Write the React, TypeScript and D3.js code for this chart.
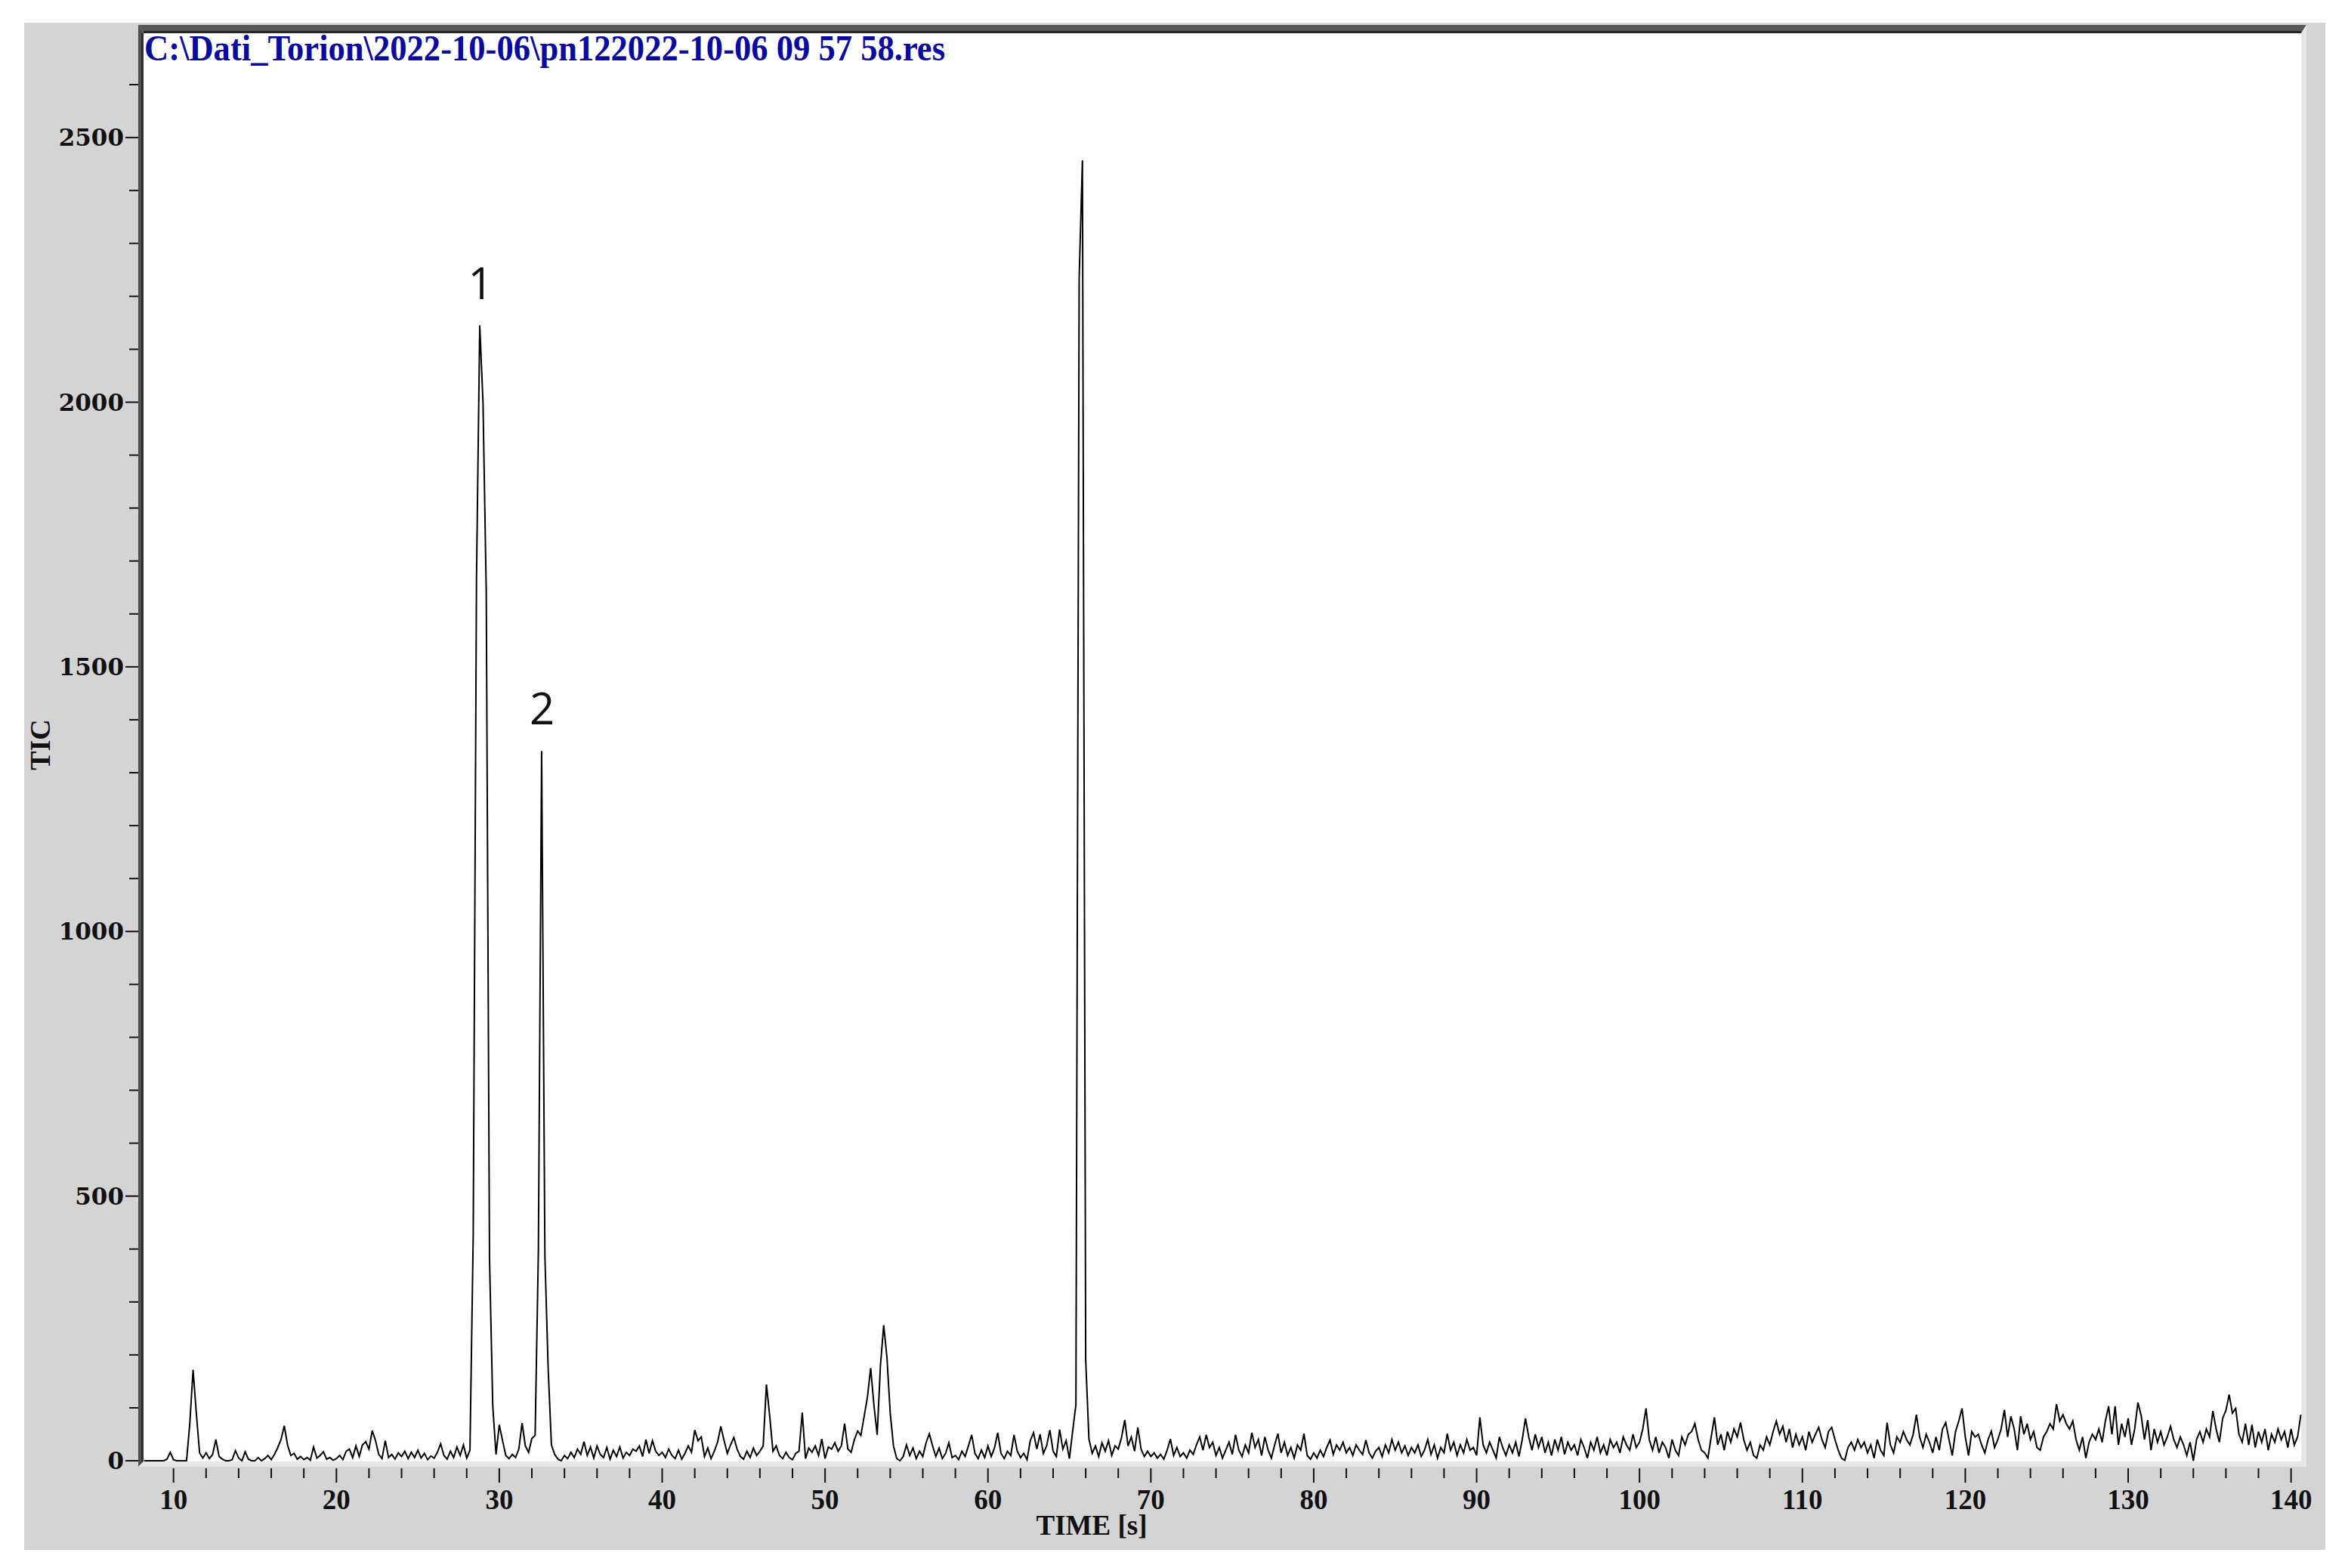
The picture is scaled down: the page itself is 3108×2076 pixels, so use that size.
import * as d3 from "d3";

// TIC trace, one reading every 0.2 s starting at 8.2 s
const startTime = 8.2;
const stepTime = 0.2;

const tic08 = [0, 0, 0, 0, 0, 0, 0, 3, 16];
const tic10 = [
  2, 0, 0, 0, 0, 70, 172, 90, 15, 5,
  15, 4, 12, 40, 8, 3, 0, 0, 2, 19,
  5, 0, 17, 3, 0, 0, 6, 0, 4, 10,
  2, 12, 25, 40, 66, 30, 10, 14, 3, 8,
  2, 6, 1, 26, 5, 10, 17, 3, 6, 1,
];
const tic20 = [
  4, 10, 2, 18, 22, 6, 28, 8, 30, 36,
  22, 57, 38, 12, 4, 38, 6, 12, 3, 15,
  8, 18, 4, 16, 6, 20, 5, 14, 2, 9,
  5, 16, 32, 10, 3, 18, 6, 26, 10, 30,
  5, 20, 427, 1664, 2145, 2000, 1641, 382, 103, 12,
];
const tic30 = [
  68, 38, 10, 4, 12, 6, 22, 71, 28, 16,
  42, 48, 396, 1341, 387, 175, 30, 12, 3, 0,
  10, 4, 16, 6, 22, 12, 36, 10, 26, 5,
  28, 12, 6, 25, 3, 20, 8, 26, 5, 16,
  10, 22, 18, 28, 8, 40, 14, 38, 18, 10,
];
const tic40 = [
  16, 6, 22, 10, 4, 20, 3, 14, 28, 16,
  58, 38, 45, 8, 24, 4, 18, 35, 65, 38,
  14, 30, 44, 22, 8, 3, 18, 6, 24, 10,
  18, 28, 144, 85, 18, 28, 10, 4, 16, 6,
  2, 14, 18, 91, 4, 24, 16, 28, 10, 41,
];
const tic50 = [
  4, 26, 22, 34, 18, 28, 70, 22, 16, 40,
  56, 48, 84, 120, 175, 105, 49, 180, 256, 195,
  90, 28, 4, 0, 8, 30, 10, 24, 4, 18,
  8, 34, 51, 28, 8, 24, 4, 14, 34, 6,
  10, 2, 18, 8, 28, 49, 14, 4, 20, 6,
];
const tic60 = [
  28, 8, 24, 53, 14, 4, 18, 10, 49, 18,
  6, 14, 2, 38, 53, 22, 50, 14, 28, 58,
  18, 8, 59, 22, 38, 4, 56, 106, 2235, 2457,
  191, 41, 14, 28, 8, 34, 18, 38, 10, 28,
  22, 44, 77, 28, 45, 18, 63, 22, 8, 18,
];
const tic70 = [
  8, 15, 5, 12, 3, 20, 41, 10, 25, 8,
  15, 5, 20, 12, 30, 45, 20, 49, 25, 35,
  10, 25, 5, 20, 35, 12, 49, 20, 8, 30,
  15, 53, 25, 40, 10, 45, 20, 5, 30, 51,
  15, 35, 10, 25, 5, 30, 20, 51, 10, 3,
];
const tic80 = [
  15, 5, 20, 8, 25, 39, 12, 30, 20, 35,
  15, 25, 10, 30, 20, 12, 39, 15, 5, 18,
  25, 8, 30, 15, 40, 20, 35, 15, 28, 10,
  25, 15, 30, 8, 20, 40, 12, 30, 5, 25,
  15, 51, 20, 35, 10, 30, 15, 40, 20, 25,
];
const tic90 = [
  10, 82, 30, 15, 35, 20, 5, 45, 25, 10,
  30, 15, 35, 8, 40, 80, 45, 20, 50, 25,
  45, 15, 35, 10, 40, 20, 45, 12, 35, 20,
  30, 10, 40, 25, 5, 35, 20, 45, 15, 30,
  10, 40, 25, 35, 15, 45, 30, 20, 50, 25,
];
const tic100 = [
  35, 60, 99, 40, 20, 45, 15, 35, 25, 5,
  40, 20, 10, 45, 30, 50, 55, 70, 40, 20,
  15, 5, 45, 82, 30, 50, 20, 55, 35, 60,
  45, 72, 40, 20, 35, 10, 5, 30, 20, 45,
  30, 55, 75, 50, 65, 35, 60, 25, 50, 30,
];
const tic110 = [
  45, 20, 55, 35, 50, 63, 40, 25, 55, 63,
  40, 20, 5, 1, 25, 35, 20, 40, 25, 35,
  15, 30, 5, 40, 20, 10, 72, 30, 15, 45,
  35, 55, 40, 30, 50, 87, 45, 25, 50, 35,
  15, 45, 20, 60, 72, 40, 10, 55, 75, 99,
];
const tic120 = [
  45, 10, 55, 45, 50, 30, 15, 40, 56, 25,
  40, 60, 96, 45, 84, 60, 20, 84, 50, 70,
  40, 55, 25, 20, 45, 55, 70, 60, 107, 75,
  87, 70, 60, 75, 40, 20, 45, 5, 35, 50,
  40, 60, 35, 75, 103, 50, 103, 30, 70, 45,
];
const tic130 = [
  80, 30, 60, 110, 85, 40, 77, 20, 60, 35,
  55, 30, 45, 65, 40, 25, 45, 30, 10, 35,
  0, 40, 55, 35, 60, 45, 94, 60, 35, 80,
  95, 125, 90, 99, 50, 35, 70, 30, 68, 25,
  55, 35, 60, 20, 50, 35, 60, 40, 55, 25,
];
const tic140 = [60, 30, 45, 87];

const ticValues = [
  ...tic08, ...tic10, ...tic20, ...tic30, ...tic40, ...tic50, ...tic60,
  ...tic70, ...tic80, ...tic90, ...tic100, ...tic110, ...tic120, ...tic130, ...tic140,
];

const xMajorTicks = [10, 20, 30, 40, 50, 60, 70, 80, 90, 100, 110, 120, 130, 140];
const yMajorTicks = [0, 500, 1000, 1500, 2000, 2500];
const xMinorTicks = d3.range(10, 141, 2);
const yMinorTicks = d3.range(0, 2601, 100);

const peakLabels = [
  { label: "1", time: 28.85, value: 2145 },
  { label: "2", time: 32.63, value: 1341 },
];

const title = "C:\\Dati_Torion\\2022-10-06\\pn122022-10-06 09 57 58.res";

const W = 3108;
const H = 2076;
const plot = { left: 190, top: 44, right: 3046, bottom: 1935 };

const x = d3.scaleLinear().domain([8.16, 140.62]).range([plot.left, plot.right]);
const y = d3.scaleLinear().domain([0, 2700]).range([1934, 42]);

const App = () => {
  const points = ticValues.map((v, i) => [+(startTime + i * stepTime).toFixed(1), v] as [number, number]);
  const line = d3.line<[number, number]>()
    .x(d => x(d[0]))
    .y(d => y(d[1]));

  const serif = "'Liberation Serif', 'Times New Roman', serif";

  return (
    <svg width={W} height={H} style={{ position: "absolute", left: 0, top: 0, background: "#fff" }}>
      {/* grey panel */}
      <rect x={32} y={30} width={3046} height={2022} fill="#d4d4d4" />
      <rect x={plot.left} y={plot.top} width={plot.right - plot.left} height={plot.bottom - plot.top} fill="#fff" />

      {/* sunken frame */}
      <polygon points="183,33 3053,33 3046,44 190,44" fill="#585858" />
      <rect x={190} y={41} width={2856} height={3} fill="#262626" />
      <polygon points="183,33 190,44 190,1935 183,1942" fill="#4f4f4f" />
      <rect x={187} y={44} width={3} height={1891} fill="#2e2e2e" />
      <polygon points="3046,44 3053,33 3053,1942 3046,1935" fill="#e8e8e8" />
      <polygon points="190,1935 3046,1935 3053,1942 183,1942" fill="#e6e6e6" />

      {/* title */}
      <text x={191} y={80} fill="#0a0a9e" fontFamily={serif} fontWeight="bold" fontSize={48}
        textLength={1060} lengthAdjust="spacingAndGlyphs">{title}</text>

      {/* trace */}
      <path d={line(points) ?? ""} fill="none" stroke="#000" strokeWidth={2} strokeLinejoin="miter" />

      {/* peak numbers */}
      {peakLabels.map(p => (
        <text key={p.label} x={x(p.time)} y={y(p.value) - 35} textAnchor="middle"
          fontFamily="'Open Sans', 'Noto Sans', sans-serif" fontSize={58} fill="#111">{p.label}</text>
      ))}

      {/* x axis */}
      {xMinorTicks.map(t => (
        <line key={"xm" + t} x1={x(t)} x2={x(t)} y1={1944} y2={xMajorTicks.includes(t) ? 1963 : 1957}
          stroke="#111" strokeWidth={2} />
      ))}
      {xMajorTicks.map(t => (
        <text key={"xl" + t} x={x(t)} y={1998} textAnchor="middle" fontFamily={serif}
          fontWeight="bold" fontSize={37} fill="#111">{t}</text>
      ))}
      <text x={1445} y={2032} textAnchor="middle" fontFamily={serif} fontWeight="bold" fontSize={37}
        fill="#111">TIME [s]</text>

      {/* y axis */}
      {yMinorTicks.map(v => (
        <line key={"ym" + v} x1={yMajorTicks.includes(v) ? 166 : 171} x2={183} y1={y(v)} y2={y(v)}
          stroke="#111" strokeWidth={2} />
      ))}
      {yMajorTicks.map(v => (
        <text key={"yl" + v} x={164} y={y(v)} dy="0.36em" textAnchor="end"
          fontFamily="'DejaVu Serif', serif" fontWeight="bold" fontSize={31} fill="#111">{v}</text>
      ))}
      <text transform="translate(66,986) rotate(-90)" textAnchor="middle" fontFamily={serif}
        fontWeight="bold" fontSize={38} fill="#111">TIC</text>
    </svg>
  );
};

export default App;
